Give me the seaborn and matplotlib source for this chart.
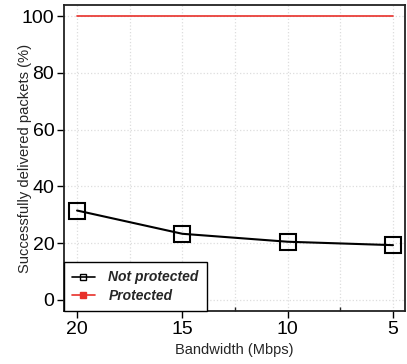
import matplotlib
matplotlib.use("Agg")
import matplotlib.pyplot as plt
import seaborn as sns
import pandas as pd
from matplotlib.ticker import MultipleLocator
from matplotlib.lines import Line2D

bandwidth = [20, 15, 10, 5]
not_protected = [31.5, 23.3, 20.5, 19.3]
protected = [100, 100, 100, 100]
series_names = ["Not protected", "Protected"]

df = pd.DataFrame({
    "Bandwidth": bandwidth * 2,
    "Value": not_protected + protected,
    "Series": [series_names[0]] * 4 + [series_names[1]] * 4,
})

sns.set_theme(style="white")
plt.rcParams['font.family'] = ['Liberation Sans', 'DejaVu Sans']

fig = plt.figure(figsize=(4.07, 3.64), dpi=100)
ax = fig.add_axes([64/407, 1 - 311/364, (405-64)/407, (311-5)/364])

prot = df[df.Series == series_names[1]]
sns.lineplot(data=prot, x="Bandwidth", y="Value", ax=ax,
             color="#e8302a", lw=1.2, label=series_names[1], zorder=3)
sns.lineplot(data=df[df.Series == series_names[0]], x="Bandwidth", y="Value", ax=ax,
             color="black", lw=1.5, marker="s", ms=12, markerfacecolor="none",
             markeredgecolor="black", markeredgewidth=1.5, label=series_names[0], zorder=4)

ax.set_xlim(20.62, 4.43)
ax.set_ylim(-3.9, 103.9)
ax.set_xticks(bandwidth)
ax.set_yticks([0, 20, 40, 60, 80, 100])
ax.xaxis.set_minor_locator(MultipleLocator(2.5))
ax.grid(True, which="major", color="#dddddd", linestyle=":", lw=0.9)
ax.grid(True, which="minor", axis="x", color="#dddddd", linestyle=":", lw=0.9)
ax.tick_params(axis="both", which="major", direction="out", length=5, width=1,
               labelsize=14, colors="black", bottom=True, left=True, pad=2)
ax.tick_params(axis="x", which="minor", direction="in", length=3, width=1, bottom=True)
for s in ax.spines.values():
    s.set_color("#222222")
    s.set_linewidth(1.3)

ax.set_xlabel("Bandwidth (Mbps)", fontsize=10.5, labelpad=4)
ax.set_ylabel("Successfully delivered packets (%)", fontsize=10.6)
ax.yaxis.set_label_coords(-0.094, 0.50)

handles = [
    Line2D([0], [0], color="black", lw=1.2, marker="s", ms=4.5, markerfacecolor="none",
           markeredgecolor="black"),
    Line2D([0], [0], color="#e8302a", lw=1.2, marker="s", ms=4.5, markerfacecolor="#e8302a",
           markeredgecolor="#e8302a"),
]
leg = ax.legend(handles, series_names, loc="lower left", bbox_to_anchor=(0, 0),
                frameon=True, fancybox=False, framealpha=1, edgecolor="black",
                borderaxespad=0, handlelength=1.6, handletextpad=1.0, borderpad=0.6,
                labelspacing=0.3, prop={"weight": "bold", "style": "italic", "size": 10})
leg.get_frame().set_linewidth(1.0)

fig.savefig("out.png", dpi=100)
